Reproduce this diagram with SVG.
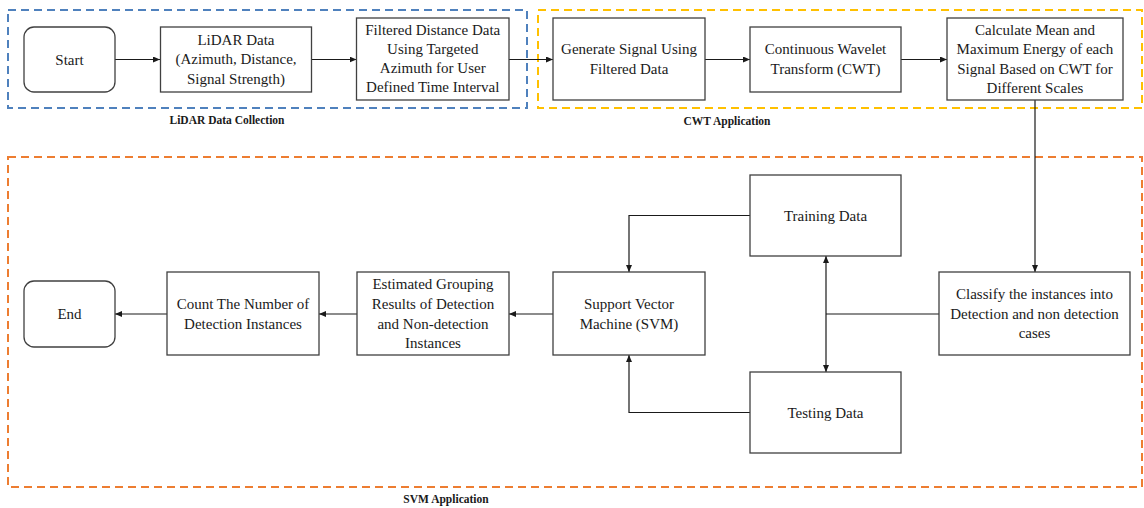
<svg xmlns="http://www.w3.org/2000/svg" width="1144" height="508" viewBox="0 0 1144 508">
<style>
.grp{fill:none;stroke-width:2;stroke-dasharray:8 5}
.box{fill:#fff;stroke:#404040;stroke-width:1.3}
.t{font-family:"Liberation Serif","Times New Roman",serif;font-size:15px;fill:#1a1a1a;text-anchor:middle}
.lbl{font-family:"Liberation Serif","Times New Roman",serif;font-size:11.5px;font-weight:bold;fill:#1a1a1a;text-anchor:middle}
.c{fill:none;stroke:#1a1a1a;stroke-width:1.2}
</style>
<defs>
<marker id="ah" markerUnits="userSpaceOnUse" markerWidth="8" markerHeight="7" refX="7" refY="3" orient="auto">
<path d="M0,0 L7,3 L0,6 z" fill="#1a1a1a"/>
</marker>
</defs>
<rect width="1144" height="508" fill="#fff"/>

<g id="groups">
<rect class="grp" x="8" y="10" width="519" height="98" stroke="#4F81BD"/>
<text class="lbl" x="227" y="124">LiDAR Data Collection</text>
<rect class="grp" x="538" y="10" width="604" height="98" stroke="#FFC000"/>
<text class="lbl" x="727" y="125">CWT Application</text>
<rect class="grp" x="8" y="157" width="1134" height="330" stroke="#ED7D31"/>
<text class="lbl" x="446" y="503">SVM Application</text>
</g>

<g id="connectors">
<path class="c" d="M115,59.5 H160" marker-end="url(#ah)"/>
<path class="c" d="M312,59.5 H356.5" marker-end="url(#ah)"/>
<path class="c" d="M509,59.5 H553" marker-end="url(#ah)"/>
<path class="c" d="M705,59.5 H750" marker-end="url(#ah)"/>
<path class="c" d="M901,59.5 H947" marker-end="url(#ah)"/>
<path class="c" d="M1035,100 V272" marker-end="url(#ah)"/>
<path class="c" d="M939,314 H826"/>
<path class="c" d="M826,314 V256" marker-end="url(#ah)"/>
<path class="c" d="M826,314 V372" marker-end="url(#ah)"/>
<path class="c" d="M750,215.5 H629 V272" marker-end="url(#ah)"/>
<path class="c" d="M750,412.5 H629 V355" marker-end="url(#ah)"/>
<path class="c" d="M553,314 H509" marker-end="url(#ah)"/>
<path class="c" d="M357,314 H319" marker-end="url(#ah)"/>
<path class="c" d="M167,314 H115" marker-end="url(#ah)"/>
</g>

<g id="start">
<rect class="box" x="24" y="27" width="91" height="65" rx="10"/>
<text class="t" x="69.5" y="64.5">Start</text>
</g>
<g id="lidar">
<rect class="box" x="160.5" y="27" width="151" height="65"/>
<text class="t" x="236" y="44.5">LiDAR Data</text>
<text class="t" x="236" y="64">(Azimuth, Distance,</text>
<text class="t" x="236" y="83.5">Signal  Strength)</text>
</g>
<g id="filtered">
<rect class="box" x="356.5" y="18" width="152.5" height="82"/>
<text class="t" x="432.75" y="34.5">Filtered Distance Data</text>
<text class="t" x="432.75" y="53.5">Using Targeted</text>
<text class="t" x="432.75" y="73">Azimuth for User</text>
<text class="t" x="432.75" y="92">Defined Time Interval</text>
</g>
<g id="generate">
<rect class="box" x="553" y="18" width="152" height="82"/>
<text class="t" x="629" y="54">Generate Signal Using</text>
<text class="t" x="629" y="73.5">Filtered Data</text>
</g>
<g id="cwt">
<rect class="box" x="750" y="27" width="151" height="65"/>
<text class="t" x="825.5" y="54">Continuous Wavelet</text>
<text class="t" x="825.5" y="73.5">Transform (CWT)</text>
</g>
<g id="calc">
<rect class="box" x="947" y="18" width="176" height="82"/>
<text class="t" x="1035" y="34.5">Calculate Mean and</text>
<text class="t" x="1035" y="54">Maximum Energy of each</text>
<text class="t" x="1035" y="73.5">Signal Based on CWT for</text>
<text class="t" x="1035" y="92.5">Different Scales</text>
</g>
<g id="classify">
<rect class="box" x="939" y="272" width="191" height="83"/>
<text class="t" x="1034.5" y="299">Classify the instances into</text>
<text class="t" x="1034.5" y="318.5">Detection and non detection</text>
<text class="t" x="1034.5" y="338">cases</text>
</g>
<g id="training">
<rect class="box" x="750" y="175" width="151" height="81"/>
<text class="t" x="825.5" y="221">Training Data</text>
</g>
<g id="testing">
<rect class="box" x="750" y="372" width="151" height="81"/>
<text class="t" x="825.5" y="418">Testing Data</text>
</g>
<g id="svm">
<rect class="box" x="553" y="272" width="152" height="83"/>
<text class="t" x="629" y="309">Support Vector</text>
<text class="t" x="629" y="328.5">Machine (SVM)</text>
</g>
<g id="estimated">
<rect class="box" x="357" y="272" width="152" height="83"/>
<text class="t" x="433" y="289">Estimated Grouping</text>
<text class="t" x="433" y="308.5">Results of Detection</text>
<text class="t" x="433" y="328.5">and Non-detection</text>
<text class="t" x="433" y="348">Instances</text>
</g>
<g id="count">
<rect class="box" x="167" y="272" width="152" height="83"/>
<text class="t" x="243" y="308.5">Count The Number of</text>
<text class="t" x="243" y="328.5">Detection Instances</text>
</g>
<g id="end">
<rect class="box" x="24" y="281" width="91" height="66" rx="10"/>
<text class="t" x="69.5" y="318.5">End</text>
</g>
</svg>
